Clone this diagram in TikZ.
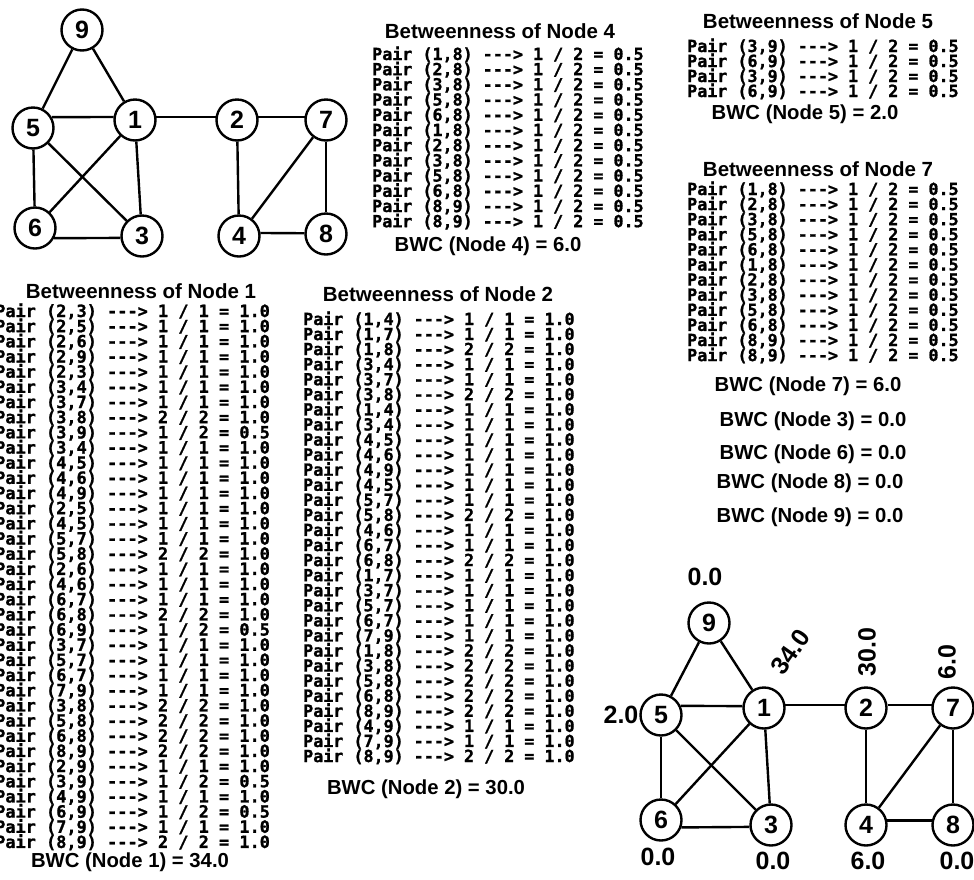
\documentclass[tikz,border=0pt]{standalone}
\usepackage{fontspec}
\setmainfont{Liberation Sans}
\newfontfamily\pairfont[Ligatures=TeXOff, FakeBold=1.2]{DejaVu Sans Mono Bold}
\usetikzlibrary{positioning}
\tikzset{
    vtx/.style={circle, draw, line width=2.4pt, minimum size=41pt, inner sep=0pt,
                font=\fontsize{25}{25}\selectfont\bfseries},
    edge/.style={line width=2.4pt},
    ttl/.style={anchor=base, inner sep=0pt, font=\fontsize{20.5}{24}\selectfont\bfseries},
    bwc/.style={anchor=base, inner sep=0pt, font=\fontsize{20.3}{24}\selectfont\bfseries},
    pair/.style={anchor=base west, inner sep=0pt,
                 font=\pairfont\fontsize{16.7}{16.7}\selectfont},
    score/.style={inner sep=0pt, font=\fontsize{25}{25}\selectfont\bfseries},
}
\begin{document}
\begin{tikzpicture}[x=1pt, y=-1pt]
    \fill[white] (0,0) rectangle (974,879);
    \useasboundingbox (0,0) rectangle (974,879);

    % input graph (top left)
    \node[vtx] (a9) at (82,30)  {9};
    \node[vtx] (a5) at (33,128) {5};
    \node[vtx] (a1) at (135,120){1};
    \node[vtx] (a2) at (237,120){2};
    \node[vtx] (a7) at (326,120){7};
    \node[vtx] (a6) at (35,228) {6};
    \node[vtx] (a3) at (142,236){3};
    \node[vtx] (a4) at (239,236){4};
    \node[vtx] (a8) at (326,234){8};
    \foreach \u/\v in {9/5,9/1,5/6,5/3,1/6,1/3,2/4,7/4,7/8}
        \draw[edge] (a\u) -- (a\v);
    \draw[edge] (a5.30) -- (a1.172);
    \draw[edge] (a1.8) -- (a2.172);
    \draw[edge] (a2.8) -- (a7.172);
    \draw[edge] (a6.-28) -- (a3.185);
    \draw[edge] (a4.8) -- (a8.178);

    % node 4
    \node[ttl] (t4) at (500,38) {Betweenness of Node 4};
    \foreach \pa/\pb [count=\i] in {1/8,2/8,3/8,5/8,6/8,1/8,2/8,3/8,5/8,6/8,8/9,8/9}
        \node[pair] (r4-\i) at (372,60+15.2*\i-15.2) {Pair (\pa,\pb) ---> 1 / 2 = 0.5};
    \node[bwc] (w4) at (488,251) {BWC (Node 4) = 6.0};

    % node 5
    \node[ttl] (t5) at (818,28) {Betweenness of Node 5};
    \foreach \pa/\pb [count=\i] in {3/9,6/9,3/9,6/9}
        \node[pair] (r5-\i) at (687,52+15*\i-15) {Pair (\pa,\pb) ---> 1 / 2 = 0.5};
    \node[bwc] (w5) at (805,119) {BWC (Node 5) = 2.0};

    % node 7
    \node[ttl] (t7) at (818,176) {Betweenness of Node 7};
    \foreach \pa/\pb [count=\i] in {1/8,2/8,3/8,5/8,6/8,1/8,2/8,3/8,5/8,6/8,8/9,8/9}
        \node[pair] (r7-\i) at (687,195+15.1*\i-15.1) {Pair (\pa,\pb) ---> 1 / 2 = 0.5};
    \node[bwc] (w7) at (808,391) {BWC (Node 7) = 6.0};
    \node[bwc] (w3) at (813,426) {BWC (Node 3) = 0.0};
    \node[bwc] (w6) at (813,459) {BWC (Node 6) = 0.0};
    \node[bwc] (w8) at (810,488) {BWC (Node 8) = 0.0};
    \node[bwc] (w9) at (810,522) {BWC (Node 9) = 0.0};

    % node 1
    \node[ttl] (t1) at (141,298) {Betweenness of Node 1};
    \foreach \pa/\pb/\na/\nb/\val [count=\i] in {
        2/3/1/1/1.0, 2/5/1/1/1.0, 2/6/1/1/1.0, 2/9/1/1/1.0, 2/3/1/1/1.0, 3/4/1/1/1.0,
        3/7/1/1/1.0, 3/8/2/2/1.0, 3/9/1/2/0.5, 3/4/1/1/1.0, 4/5/1/1/1.0, 4/6/1/1/1.0,
        4/9/1/1/1.0, 2/5/1/1/1.0, 4/5/1/1/1.0, 5/7/1/1/1.0, 5/8/2/2/1.0, 2/6/1/1/1.0,
        4/6/1/1/1.0, 6/7/1/1/1.0, 6/8/2/2/1.0, 6/9/1/2/0.5, 3/7/1/1/1.0, 5/7/1/1/1.0,
        6/7/1/1/1.0, 7/9/1/1/1.0, 3/8/2/2/1.0, 5/8/2/2/1.0, 6/8/2/2/1.0, 8/9/2/2/1.0,
        2/9/1/1/1.0, 3/9/1/2/0.5, 4/9/1/1/1.0, 6/9/1/2/0.5, 7/9/1/1/1.0, 8/9/2/2/1.0}
        \node[pair, font=\pairfont\fontsize{16.9}{16.9}\selectfont] (r1-\i)
            at (-5,317+15.17*\i-15.17) {Pair (\pa,\pb) ---> \na{} / \nb{} = \val};
    \node[bwc] (w1) at (130,867) {BWC (Node 1) = 34.0};

    % node 2
    \node[ttl] (t2) at (438,301) {Betweenness of Node 2};
    \foreach \pa/\pb/\na [count=\i] in {
        1/4/1, 1/7/1, 1/8/2, 3/4/1, 3/7/1, 3/8/2, 1/4/1, 3/4/1, 4/5/1, 4/6/1,
        4/9/1, 4/5/1, 5/7/1, 5/8/2, 4/6/1, 6/7/1, 6/8/2, 1/7/1, 3/7/1, 5/7/1,
        6/7/1, 7/9/1, 1/8/2, 3/8/2, 5/8/2, 6/8/2, 8/9/2, 4/9/1, 7/9/1, 8/9/2}
        \node[pair] (r2-\i) at (303,325+15.07*\i-15.07) {Pair (\pa,\pb) ---> \na{} / \na{} = 1.0};
    \node[bwc] (w2) at (426,794) {BWC (Node 2) = 30.0};

    % result graph (bottom right)
    \node[vtx] (b9) at (709,623) {9};
    \node[vtx] (b5) at (661,715) {5};
    \node[vtx] (b1) at (764,708) {1};
    \node[vtx] (b2) at (866,708) {2};
    \node[vtx] (b7) at (953,708) {7};
    \node[vtx] (b6) at (661,820) {6};
    \node[vtx] (b3) at (771,825) {3};
    \node[vtx] (b4) at (866,825) {4};
    \node[vtx] (b8) at (953,825) {8};
    \foreach \u/\v in {9/5,9/1,5/6,5/3,1/6,1/3,2/4,7/4,7/8}
        \draw[edge] (b\u) -- (b\v);
    \draw[edge] (b5.25) -- (b1.175);
    \draw[edge] (b1.8) -- (b2.172);
    \draw[edge] (b2.8) -- (b7.172);
    \draw[edge] (b6.-20) -- (b3.185);
    \draw[edge] (b4.12) -- (b8.168);

    \node[score] (s9) at (705,577) {0.0};
    \node[score, rotate=55] (s1) at (790,652) {34.0};
    \node[score, rotate=90] (s2) at (867,652) {30.0};
    \node[score, rotate=90] (s7) at (947,662) {6.0};
    \node[score] (s5) at (621,715) {2.0};
    \node[score] (s6) at (658,857) {0.0};
    \node[score] (s3) at (773,861) {0.0};
    \node[score] (s4) at (868,861) {6.0};
    \node[score] (s8) at (957,861) {0.0};
\end{tikzpicture}
\end{document}
